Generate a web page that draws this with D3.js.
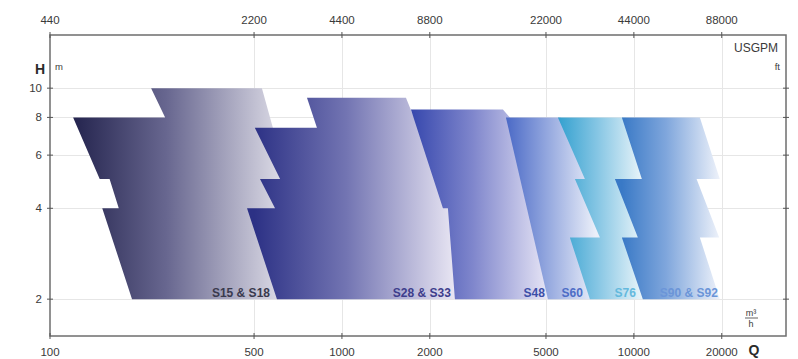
<!DOCTYPE html>
<html>
<head>
<meta charset="utf-8">
<script src="https://cdn.jsdelivr.net/npm/d3@7"></script>
<style>
  body { margin: 0; background: #fff; }
  svg { display: block; font-family: "Liberation Sans", Arial, sans-serif; }
</style>
</head>
<body>
<svg id="chart" width="798" height="359"></svg>
<script>
// Flow axis (m³/h) and matching US gallons per minute on top
const qTicks = [100, 500, 1000, 2000, 5000, 10000, 20000];
const qTickLabels = ["100", "500", "1000", "2000", "5000", "10000", "20000"];
const gpmTickLabels = ["440", "2200", "4400", "8800", "22000", "44000", "88000"];
// Head axis (m)
const hTicks = [2, 4, 6, 8, 10];

// Pump families, drawn back to front
const families = ["S15 & S18", "S28 & S33", "S48", "S60", "S76", "S90 & S92"];

// Outline of each family's operating field as [Q m³/h, H m] corners
const fieldS15 = [[222, 10], [532, 10], [580, 7.4], [690, 3.9], [718, 2], [191, 2], [151, 4], [172, 4], [160, 5], [148, 5], [120, 8], [248, 8]];
const fieldS28 = [[759, 9.3], [1657, 9.3], [1737, 8.3], [2344, 4.25], [2640, 2], [599, 2], [473, 4], [590, 4], [524, 5], [614, 5], [503, 7.4], [821, 7.4]];
const fieldS48 = [[1723, 8.5], [3560, 8.5], [3760, 8], [5160, 2], [2438, 2], [2307, 4], [2218, 4]];
const fieldS60 = [[3645, 8], [5610, 8], [7180, 5], [7650, 3.2], [7400, 2], [5077, 2]];
const fieldS76 = [[5492, 8], [9390, 8], [11340, 5], [10910, 3.2], [11340, 2], [7069, 2], [6037, 3.2], [7650, 3.2], [6281, 5], [6796, 5]];
const fieldS90 = [[9097, 8], [16830, 8], [19700, 5], [16400, 5], [19600, 3.2], [16830, 3.2], [19700, 2], [10735, 2], [9097, 3.2], [10320, 3.2], [8610, 5], [10650, 5]];
const fields = [fieldS15, fieldS28, fieldS48, fieldS60, fieldS76, fieldS90];

// Horizontal colour ramp of each family: flow where it starts and ends
const rampStartQ = [120, 500, 1720, 3640, 5490, 9100];
const rampEndQ = [620, 2500, 5100, 7400, 11000, 19700];
const darkColors = ["#24244e", "#2c3185", "#3647ad", "#4a69c6", "#33a0cf", "#3979c6"];
const midColors = ["#686790", "#7274b2", "#7f86cc", "#92a6de", "#86c6e4", "#7fa6dc"];
const lightColors = ["#dcdbe6", "#ece9f5", "#e8e6f6", "#ebeff9", "#f1f8fb", "#eef2fa"];
const labelColors = ["#3a3a4e", "#3e3e8c", "#3d4fa8", "#4d6dc6", "#64b9dd", "#6b95d8"];
// Flow at the right end of each family's label
const labelEndQ = [567, 2362, 4960, 6690, 10160, 19400];

const plotL = 50, plotR = 786, plotT = 35, plotB = 336;

const x = d3.scaleLog().domain([100, 33200]).range([plotL, plotR]);
const y = d3.scaleLog().domain([1.51, 15]).range([plotB, plotT]);

const svg = d3.select("#chart");
const defs = svg.append("defs");

// Grid
const grid = svg.append("g").attr("stroke", "#e6e6e6").attr("stroke-width", 1);
grid.selectAll("line.v").data(qTicks.slice(1)).join("line")
  .attr("x1", d => Math.round(x(d)) + 0.5).attr("x2", d => Math.round(x(d)) + 0.5)
  .attr("y1", plotT).attr("y2", plotB);
grid.selectAll("line.h").data(hTicks).join("line")
  .attr("y1", d => Math.round(y(d)) + 0.5).attr("y2", d => Math.round(y(d)) + 0.5)
  .attr("x1", plotL).attr("x2", plotR);

// Family fields with horizontal gradients
const outline = d3.line().x(d => x(d[0])).y(d => y(d[1]));
families.forEach((name, i) => {
  const id = "ramp" + i;
  const g = defs.append("linearGradient").attr("id", id)
    .attr("gradientUnits", "userSpaceOnUse")
    .attr("x1", x(rampStartQ[i])).attr("x2", x(rampEndQ[i]))
    .attr("y1", 0).attr("y2", 0);
  g.append("stop").attr("offset", 0).attr("stop-color", darkColors[i]);
  g.append("stop").attr("offset", 0.45).attr("stop-color", midColors[i]);
  g.append("stop").attr("offset", 1).attr("stop-color", lightColors[i]);
  svg.append("path").attr("d", outline(fields[i]) + "Z").attr("fill", `url(#${id})`);
});

// Family labels along the bottom of the fields
svg.append("g").selectAll("text").data(families).join("text")
  .attr("x", (d, i) => x(labelEndQ[i]))
  .attr("y", y(2) - 2)
  .attr("text-anchor", "end")
  .attr("font-size", 12).attr("font-weight", "bold")
  .attr("fill", (d, i) => labelColors[i])
  .text(d => d);

// Frame
svg.append("rect").attr("x", plotL).attr("y", plotT)
  .attr("width", plotR - plotL).attr("height", plotB - plotT)
  .attr("fill", "none").attr("stroke", "#6e6e6e").attr("stroke-width", 1.5);

// Tick marks on all four sides
const ticks = svg.append("g").attr("stroke", "#555").attr("stroke-width", 1);
ticks.selectAll("line.b").data(qTicks).join("line")
  .attr("x1", d => x(d)).attr("x2", d => x(d)).attr("y1", plotB - 3).attr("y2", plotB + 3);
ticks.selectAll("line.t").data(qTicks).join("line")
  .attr("x1", d => x(d)).attr("x2", d => x(d)).attr("y1", plotT - 3).attr("y2", plotT + 3);
ticks.selectAll("line.l").data(hTicks).join("line")
  .attr("y1", d => y(d)).attr("y2", d => y(d)).attr("x1", plotL - 3).attr("x2", plotL + 3);
ticks.selectAll("line.r").data(hTicks).join("line")
  .attr("y1", d => y(d)).attr("y2", d => y(d)).attr("x1", plotR - 3).attr("x2", plotR + 3);

const txt = svg.append("g").attr("fill", "#3a3a3a").attr("font-size", 11.5);
txt.selectAll("text.b").data(qTicks).join("text")
  .attr("x", d => x(d)).attr("y", 356).attr("text-anchor", "middle")
  .text((d, i) => qTickLabels[i]);
txt.selectAll("text.t").data(qTicks).join("text")
  .attr("x", d => x(d)).attr("y", 24).attr("text-anchor", "middle")
  .text((d, i) => gpmTickLabels[i]);
txt.selectAll("text.l").data(hTicks).join("text")
  .attr("x", 42).attr("y", d => y(d) + 4).attr("text-anchor", "end")
  .text(d => d);

// Axis titles and units
svg.append("text").attr("x", 40).attr("y", 74).attr("text-anchor", "middle")
  .attr("font-size", 14).attr("font-weight", "bold").attr("fill", "#2a2a2a").text("H");
svg.append("text").attr("x", 55).attr("y", 70)
  .attr("font-size", 9.5).attr("fill", "#3a3a3a").text("m");
svg.append("text").attr("x", 778).attr("y", 52).attr("text-anchor", "end")
  .attr("font-size", 12).attr("fill", "#3a3a3a").text("USGPM");
svg.append("text").attr("x", 780).attr("y", 70).attr("text-anchor", "end")
  .attr("font-size", 9.5).attr("fill", "#3a3a3a").text("ft");
svg.append("text").attr("x", 754).attr("y", 355).attr("text-anchor", "middle")
  .attr("font-size", 14).attr("font-weight", "bold").attr("fill", "#2a2a2a").text("Q");
const unit = svg.append("g").attr("fill", "#3a3a3a").attr("font-size", 9).attr("text-anchor", "middle");
unit.append("text").attr("x", 751).attr("y", 316).text("m³");
unit.append("line").attr("x1", 745).attr("x2", 758).attr("y1", 318).attr("y2", 318)
  .attr("stroke", "#3a3a3a").attr("stroke-width", 0.8);
unit.append("text").attr("x", 751).attr("y", 327).text("h");
</script>
</body>
</html>
